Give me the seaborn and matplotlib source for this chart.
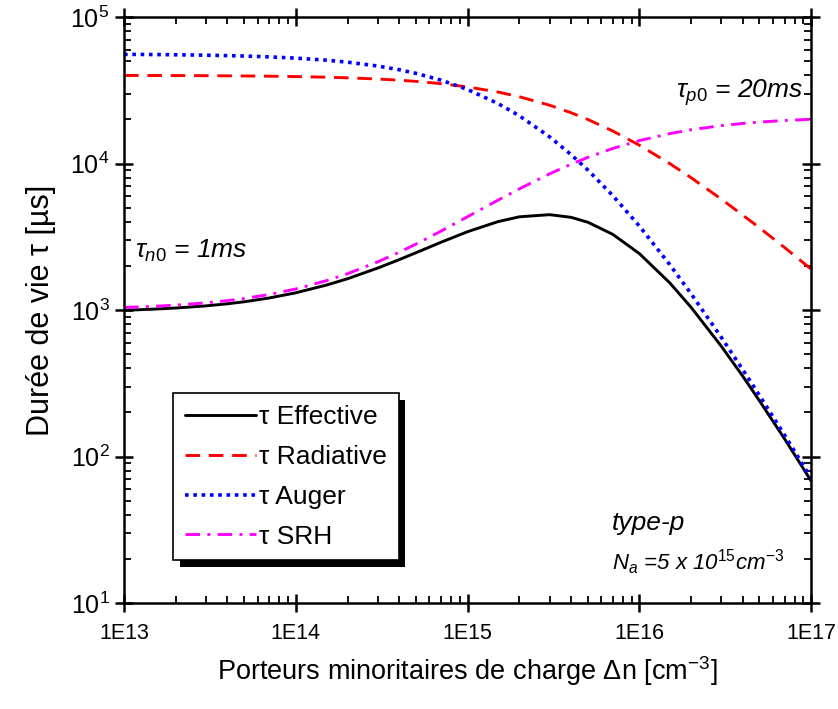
import numpy as np
import seaborn as sns
import matplotlib.pyplot as plt
from matplotlib import patheffects
from matplotlib.ticker import LogLocator, FuncFormatter, NullFormatter

# excess carrier density (cm^-3)
dn = [1e13, 1.5e13, 2e13, 3e13, 4e13, 5e13, 7e13,
      1e14, 1.5e14, 2e14, 3e14, 4e14, 5e14, 7e14,
      1e15, 1.5e15, 2e15, 3e15, 4e15, 5e15, 7e15,
      1e16, 1.5e16, 2e16, 3e16, 4e16, 5e16, 7e16, 1e17]

# lifetimes in microseconds
tau_eff = [995, 1014, 1032, 1067, 1103, 1138, 1208,
           1311, 1477, 1635, 1934, 2208, 2459, 2900,
           3425, 4008, 4327, 4476, 4292, 3978, 3284,
           2426, 1535, 1043, 565, 353, 240, 132, 68]
tau_rad = [39920, 39880, 39840, 39760, 39680, 39600, 39450,
           39220, 38830, 38460, 37740, 37040, 36360, 35090,
           33330, 30770, 28570, 25000, 22220, 20000, 16670,
           13330, 10000, 8000, 5710, 4440, 3640, 2670, 1900]
tau_aug = [55620, 55440, 55250, 54880, 54520, 54150, 53440,
           52410, 50760, 49190, 46280, 43660, 41270, 37090,
           32000, 25700, 21180, 15210, 11510, 9050, 6040,
           3740, 2046, 1291, 650, 391, 261, 140, 71]
tau_srh = [1040, 1060, 1080, 1119, 1159, 1198, 1276,
           1392, 1583, 1769, 2132, 2481, 2818, 3456,
           4333, 5615, 6714, 8500, 9889, 11000, 12667,
           14333, 16000, 17000, 18143, 18778, 19182, 19667, 20048]

series = [
    ('\u03c4 Effective', tau_eff, 'black', '-'),
    ('\u03c4 Radiative', tau_rad, '#ff0000', (0, (5, 3))),
    ('\u03c4 Auger', tau_aug, '#0000ff', (0, (1, 1.3))),
    ('\u03c4 SRH', tau_srh, '#ff00ff', (0, (5, 2.5, 1, 2.5))),
]

sns.set_style('ticks')
plt.rcParams['font.family'] = ['Liberation Sans', 'DejaVu Sans']
plt.rcParams['mathtext.fontset'] = 'custom'
plt.rcParams['mathtext.rm'] = 'Liberation Sans'
plt.rcParams['mathtext.it'] = 'Liberation Sans:italic'
plt.rcParams['mathtext.bf'] = 'Liberation Sans:bold'
for key in ['text.color', 'axes.labelcolor', 'xtick.color', 'ytick.color', 'axes.edgecolor']:
    plt.rcParams[key] = 'black'

fig = plt.figure(figsize=(8.38, 7.09), dpi=100)
ax = fig.add_axes([0.148, 0.1495, 0.82, 0.8265])

for label, vals, color, ls in series:
    lw = 2.6 if color == '#0000ff' else 2.1
    sns.lineplot(x=dn, y=vals, ax=ax, color=color, linestyle=ls,
                 linewidth=lw, label=label)

ax.set_xscale('log')
ax.set_yscale('log')
ax.set_xlim(1e13, 1e17)
ax.set_ylim(10, 1e5)

ax.set_xticks([1e13, 1e14, 1e15, 1e16, 1e17])
ax.xaxis.set_major_formatter(FuncFormatter(lambda v, p: '1E%d' % round(np.log10(v))))
ax.xaxis.set_minor_locator(LogLocator(base=10, subs=np.arange(2, 10)))
ax.xaxis.set_minor_formatter(NullFormatter())
ax.yaxis.set_minor_locator(LogLocator(base=10, subs=np.arange(2, 10)))
ax.yaxis.set_minor_formatter(NullFormatter())

ax.tick_params(which='major', direction='inout', length=13, width=1.8,
               top=True, right=True, pad=6)
ax.tick_params(axis='x', which='major', labelsize=15.5, pad=8)
ax.tick_params(axis='y', which='major', labelsize=18, pad=4)
ax.tick_params(which='minor', direction='in', length=5, width=1.3,
               top=True, right=True)
for s in ax.spines.values():
    s.set_linewidth(1.8)
    s.set_color('black')

ax.set_xlabel('Porteurs minoritaires de charge \u0394n [cm$^{-3}$]', fontsize=19.5, labelpad=7)
ax.set_ylabel('Durée de vie \u03c4 [µs]', fontsize=22, labelpad=10)

leg = ax.legend(loc='upper left', bbox_to_anchor=(0.0713, 0.358), borderaxespad=0,
                frameon=True, fancybox=False, edgecolor='black', framealpha=1,
                fontsize=19, handlelength=2.7, handletextpad=0.1,
                labelspacing=0.6, borderpad=0.45)
leg.get_frame().set_linewidth(1.2)
leg.get_frame().set_path_effects([
    patheffects.SimplePatchShadow(offset=(5, -5), shadow_rgbFace='black', alpha=1),
    patheffects.Normal()])

ax.text(0.988, 0.862, r'$\mathit{\tau_{p0}}$ = 20ms', transform=ax.transAxes,
        ha='right', va='baseline', fontsize=19, style='italic')
ax.text(0.016, 0.589, r'$\mathit{\tau_{n0}}$ = 1ms', transform=ax.transAxes,
        ha='left', va='baseline', fontsize=19, style='italic')
ax.text(0.71, 0.1246, 'type-p', transform=ax.transAxes,
        ha='left', va='baseline', fontsize=19, style='italic')
ax.text(0.71, 0.0563, r'$\mathit{N_a}$ =5 x 10$^{\mathit{15}}$cm$^{\mathit{-3}}$',
        transform=ax.transAxes, ha='left', va='baseline', fontsize=16, style='italic')

plt.savefig('out.png', dpi=100)
plt.close()
